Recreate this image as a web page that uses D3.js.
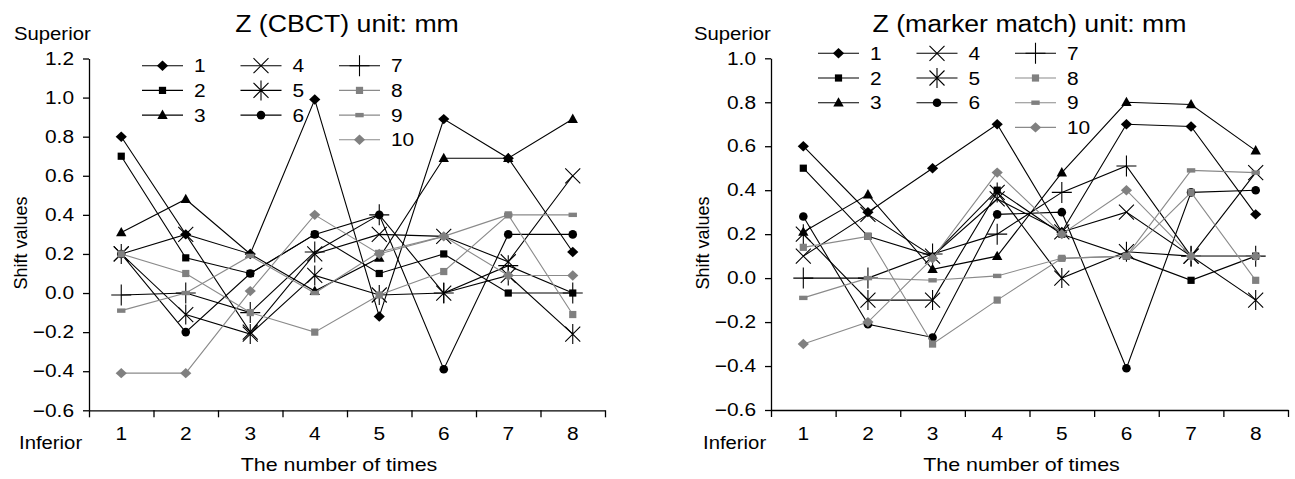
<!DOCTYPE html>
<html><head><meta charset="utf-8">
<script src="https://cdn.jsdelivr.net/npm/d3@7"></script>
<style>
body{margin:0;background:#fff}
svg{display:block}
text{font-family:"Liberation Sans",Arial,sans-serif;fill:#000}
</style>
</head><body>
<svg id="c" width="1295" height="479"></svg>
<script>
// ---------- data ----------
const times = [1, 2, 3, 4, 5, 6, 7, 8];
const seriesNames = ["1", "2", "3", "4", "5", "6", "7", "8", "9", "10"];

// Z (CBCT)
const cbct1  = [0.80, 0.30, 0.20, 0.99, -0.12, 0.89, 0.69, 0.21];
const cbct2  = [0.70, 0.18, 0.10, 0.30, 0.10, 0.20, 0.00, 0.00];
const cbct3  = [0.31, 0.48, 0.20, 0.01, 0.18, 0.69, 0.69, 0.89];
const cbct4  = [0.20, 0.30, -0.20, 0.20, 0.30, 0.29, 0.16, 0.60];
const cbct5  = [0.20, -0.11, -0.21, 0.09, -0.01, 0.00, 0.09, -0.21];
const cbct6  = [0.20, -0.20, 0.10, 0.30, 0.40, -0.39, 0.30, 0.30];
const cbct7  = [-0.01, 0.00, -0.10, 0.21, 0.40, 0.00, 0.14, 0.00];
const cbct8  = [0.20, 0.10, -0.10, -0.20, -0.01, 0.11, 0.40, -0.11];
const cbct9  = [-0.09, 0.00, 0.19, 0.00, 0.21, 0.29, 0.40, 0.40];
const cbct10 = [-0.41, -0.41, 0.01, 0.40, 0.20, 0.29, 0.09, 0.09];

// Z (marker match)
const mm1  = [0.60, 0.30, 0.50, 0.70, 0.21, 0.70, 0.69, 0.29];
const mm2  = [0.50, 0.19, 0.10, 0.40, 0.20, 0.10, -0.01, 0.10];
const mm3  = [0.21, 0.38, 0.04, 0.10, 0.48, 0.80, 0.79, 0.58];
const mm4  = [0.10, 0.29, 0.10, 0.36, 0.21, 0.30, 0.10, 0.48];
const mm5  = [0.20, -0.10, -0.10, 0.39, 0.00, 0.12, 0.10, -0.10];
const mm6  = [0.28, -0.21, -0.27, 0.29, 0.30, -0.41, 0.39, 0.40];
const mm7  = [0.00, 0.00, 0.11, 0.20, 0.39, 0.51, 0.10, 0.10];
const mm8  = [0.14, 0.19, -0.30, -0.10, 0.09, 0.10, 0.39, -0.01];
const mm9  = [-0.09, 0.00, -0.01, 0.01, 0.09, 0.10, 0.49, 0.48];
const mm10 = [-0.30, -0.20, 0.09, 0.48, 0.20, 0.40, 0.10, 0.10];

const cbctTicks = [1.2, 1.0, 0.8, 0.6, 0.4, 0.2, 0.0, -0.2, -0.4, -0.6];
const mmTicks = [1.0, 0.8, 0.6, 0.4, 0.2, 0.0, -0.2, -0.4, -0.6];

const titles = ["Z (CBCT) unit: mm", "Z (marker match) unit: mm"];
const xTitle = "The number of times";
const yTitle = "Shift values";
const topWord = "Superior";
const bottomWord = "Inferior";

// ---------- styles ----------
const BLACK = "#000", GRAY = "#808080", GRAYLINE = "#8a8a8a";
const styles = [
  {m: "diamond", c: BLACK, lc: BLACK},
  {m: "square", c: BLACK, lc: BLACK},
  {m: "triangle", c: BLACK, lc: BLACK},
  {m: "x", c: BLACK, lc: BLACK},
  {m: "star", c: BLACK, lc: BLACK},
  {m: "circle", c: BLACK, lc: BLACK},
  {m: "plus", c: BLACK, lc: BLACK},
  {m: "square", c: GRAY, lc: GRAYLINE},
  {m: "dash", c: GRAY, lc: GRAYLINE},
  {m: "diamond", c: GRAY, lc: GRAYLINE}
];
const SX = 1.16;

const svg = d3.select("#c");

function stext(g, x, y, str, anchor, size) {
  return g.append("text")
    .attr("transform", `translate(${x},${y}) scale(${SX},1)`)
    .attr("text-anchor", anchor)
    .style("font-size", size + "px")
    .text(str);
}

function marker(g, type, color) {
  switch (type) {
    case "diamond":
      g.append("path").attr("d", "M0,-5.2L5.6,0L0,5.2L-5.6,0Z").attr("fill", color); break;
    case "square":
      g.append("rect").attr("x", -3.6).attr("y", -3.6).attr("width", 7.2).attr("height", 7.2).attr("fill", color); break;
    case "triangle":
      g.append("path").attr("d", "M0,-5.5L5.2,3.8L-5.2,3.8Z").attr("fill", color); break;
    case "circle":
      g.append("circle").attr("r", 4.3).attr("fill", color); break;
    case "dash":
      g.append("rect").attr("x", -4.2).attr("y", -2.2).attr("width", 8.4).attr("height", 4.4).attr("fill", color); break;
    case "x":
      g.append("path").attr("d", "M-7.5,-7.5L7.5,7.5M-7.5,7.5L7.5,-7.5").attr("stroke", color).attr("stroke-width", 1.1).attr("fill", "none"); break;
    case "star":
      g.append("path").attr("d", "M-7.5,-7.5L7.5,7.5M-7.5,7.5L7.5,-7.5M0,-10L0,10").attr("stroke", color).attr("stroke-width", 1.1).attr("fill", "none"); break;
    case "plus":
      g.append("path").attr("d", "M-10,0L10,0M0,-10.5L0,10.5").attr("stroke", color).attr("stroke-width", 1.1).attr("fill", "none"); break;
  }
}

function drawChart(cfg) {
  const g = svg.append("g");
  const x = d3.scaleLinear().domain([0.5, 8.5]).range([cfg.x0, cfg.x1]);
  const y = d3.scaleLinear().domain([cfg.ticks[cfg.ticks.length - 1], cfg.ticks[0]]).range([cfg.yb, cfg.yt]);

  // axes
  const xa = g.append("g").attr("transform", `translate(0,${cfg.yb})`)
    .call(d3.axisBottom(x).tickValues(d3.range(0.5, 9, 1)).tickSize(7).tickSizeOuter(0).tickFormat(""));
  const ya = g.append("g").attr("transform", `translate(${cfg.x0},0)`)
    .call(d3.axisLeft(y).tickValues(cfg.ticks).tickSize(6).tickSizeOuter(0).tickFormat(d3.format(".1f")));
  [xa, ya].forEach(a => {
    a.select(".domain").attr("stroke", "#000").attr("stroke-width", 1.3);
    a.selectAll(".tick line").attr("stroke", "#000").attr("stroke-width", 1.3);
  });
  ya.selectAll(".tick text")
    .attr("x", 0)
    .attr("transform", `translate(-15,0) scale(${SX},1)`)
    .style("font-size", "18px").attr("fill", "#000");

  // x category labels
  times.forEach(t => stext(g, x(t), cfg.yb + 30, String(t), "middle", 18));

  // titles
  stext(g, (cfg.x0 + cfg.x1) / 2, 32, cfg.title, "middle", 23);
  stext(g, (cfg.x0 + cfg.x1) / 2 - 8, 471, xTitle, "middle", 18.5);
  g.append("text")
    .attr("transform", `translate(${cfg.yTitleX},243) rotate(-90)`)
    .attr("text-anchor", "middle").style("font-size", "18px").text(yTitle);
  stext(g, cfg.supX, 40, topWord, "start", 17.5);
  stext(g, cfg.infX, 449, bottomWord, "start", 17.5);

  // series
  const line = d3.line().x((d, i) => x(times[i])).y(d => y(d));
  cfg.data.forEach((vals, si) => {
    const st = styles[si];
    g.append("path").attr("d", line(vals)).attr("fill", "none")
      .attr("stroke", st.lc).attr("stroke-width", 1.1);
    vals.forEach((v, i) => {
      const mg = g.append("g").attr("transform", `translate(${x(times[i])},${y(v)})`);
      marker(mg, st.m, st.c);
    });
  });

  // legend
  const lg = g.append("g");
  seriesNames.forEach((name, si) => {
    const col = si < 3 ? 0 : (si < 6 ? 1 : 2);
    const row = si < 3 ? si : (si < 6 ? si - 3 : si - 6);
    const lx = cfg.legX + col * 98.5;
    const ly = cfg.legY + row * 24.7;
    const st = styles[si];
    lg.append("line").attr("x1", lx).attr("x2", lx + 41).attr("y1", ly).attr("y2", ly)
      .attr("stroke", st.lc).attr("stroke-width", 1.1);
    marker(lg.append("g").attr("transform", `translate(${lx + 20.5},${ly})`), st.m, st.c);
    stext(lg, lx + 52, ly + 6.5, name, "start", 18);
  });
}

drawChart({
  x0: 89, x1: 605, yt: 58.5, yb: 410.3, ticks: cbctTicks, title: titles[0],
  data: [cbct1, cbct2, cbct3, cbct4, cbct5, cbct6, cbct7, cbct8, cbct9, cbct10],
  yTitleX: 27, supX: 14, infX: 19, legX: 142, legY: 65.7
});
drawChart({
  x0: 771, x1: 1288, yt: 58.3, yb: 410, ticks: mmTicks, title: titles[1],
  data: [mm1, mm2, mm3, mm4, mm5, mm6, mm7, mm8, mm9, mm10],
  yTitleX: 709, supX: 694, infX: 703, legX: 818, legY: 53.3
});
</script>
</body></html>
